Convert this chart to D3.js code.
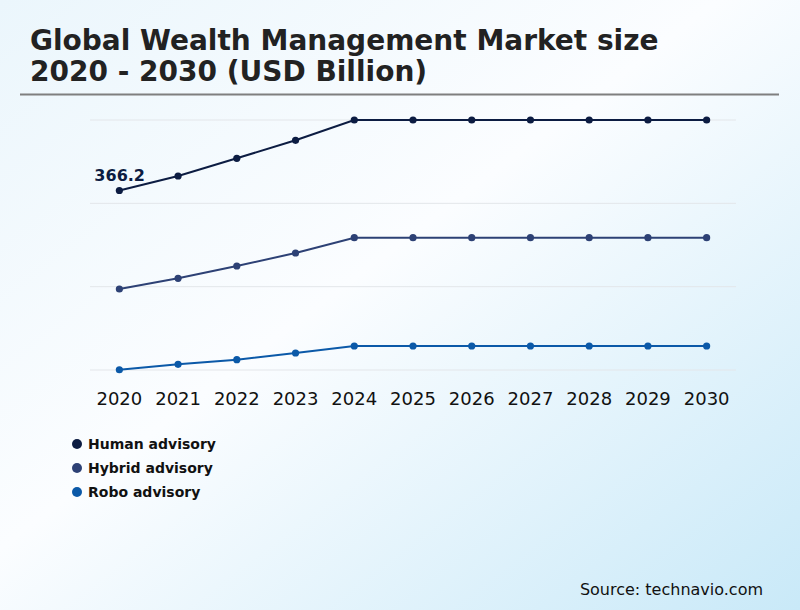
<!DOCTYPE html>
<html>
<head>
<meta charset="utf-8">
<script src="https://cdn.jsdelivr.net/npm/d3@7"></script>
<style>
  html, body { margin: 0; padding: 0; }
  body { width: 800px; height: 610px; overflow: hidden; font-family: "DejaVu Sans", sans-serif; }
</style>
</head>
<body>
<div id="chart"></div>
<script>
const years = ["2020", "2021", "2022", "2023", "2024", "2025", "2026", "2027", "2028", "2029", "2030"];
const human = [366.2, 395.8, 431.9, 468.6, 510, 510, 510, 510, 510, 510, 510];
const hybrid = [165.2, 187.1, 212.2, 238.7, 269.9, 269.9, 269.9, 269.9, 269.9, 269.9, 269.9];
const robo = [0.5, 11.6, 21.0, 34.7, 49.0, 49.0, 49.0, 49.0, 49.0, 49.0, 49.0];
const gridTicks = [0, 170, 340, 510];
const seriesNames = ["Human advisory", "Hybrid advisory", "Robo advisory"];

const width = 800, height = 610;
const colors = ["#0c1c42", "#2d4175", "#0b59a8"];

const svg = d3.select("#chart").append("svg")
    .attr("width", width).attr("height", height);

// background
const grad = svg.append("defs").append("linearGradient")
    .attr("id", "bg").attr("x1", "0").attr("y1", "0").attr("x2", "1").attr("y2", "1");
grad.append("stop").attr("offset", "0%").attr("stop-color", "#ebf6fc");
grad.append("stop").attr("offset", "45%").attr("stop-color", "#fbfdff");
grad.append("stop").attr("offset", "100%").attr("stop-color", "#c9e9f8");
svg.append("rect").attr("width", width).attr("height", height).attr("fill", "url(#bg)");

// title
const title = svg.append("text")
    .attr("x", 30).attr("y", 50)
    .attr("font-size", 28).attr("font-weight", "bold").attr("fill", "#222");
title.append("tspan").attr("x", 30).attr("y", 50).text("Global Wealth Management Market size");
title.append("tspan").attr("x", 30).attr("y", 81).text("2020 - 2030 (USD Billion)");

svg.append("line")
    .attr("x1", 20).attr("x2", 779).attr("y1", 94.5).attr("y2", 94.5)
    .attr("stroke", "#7f7f7f").attr("stroke-width", 2);

// scales
const x = d3.scaleBand().domain(years).range([90, 736]);
const y = d3.scaleLinear().domain([0, 510]).range([370, 120]);
const cx = d => x(d) + x.bandwidth() / 2;

// grid
svg.append("g").selectAll("line").data(gridTicks).join("line")
    .attr("x1", 90).attr("x2", 736)
    .attr("y1", d => y(d)).attr("y2", d => y(d))
    .attr("stroke", "#e3e6ea").attr("stroke-width", 1);

// x axis labels
const xAxis = svg.append("g")
    .attr("transform", "translate(0,370)")
    .call(d3.axisBottom(x).tickSize(0).tickPadding(22));
xAxis.select(".domain").remove();
xAxis.selectAll("text")
    .attr("font-size", 18).attr("font-family", "DejaVu Sans").attr("fill", "#111");

// lines
const line = d3.line().x((d, i) => cx(years[i])).y(d => y(d));
[human, hybrid, robo].forEach((s, k) => {
    const g = svg.append("g");
    g.append("path").datum(s)
        .attr("d", line)
        .attr("fill", "none").attr("stroke", colors[k]).attr("stroke-width", 2);
    g.selectAll("circle").data(s).join("circle")
        .attr("cx", (d, i) => cx(years[i]))
        .attr("cy", d => y(d))
        .attr("r", 3.6)
        .attr("fill", colors[k]);
});

// data label
svg.append("text")
    .attr("x", cx(years[0]) - 25).attr("y", y(human[0]) - 9)
    .attr("font-size", 16).attr("font-weight", "bold").attr("fill", colors[0])
    .text(human[0].toFixed(1));

// legend
const legend = svg.append("g").selectAll("g").data(seriesNames).join("g")
    .attr("transform", (d, i) => `translate(77,${444 + i * 24})`);
legend.append("circle").attr("r", 5).attr("fill", (d, i) => colors[i]);
legend.append("text")
    .attr("x", 11).attr("y", 5)
    .attr("font-size", 14).attr("font-weight", "bold").attr("fill", "#111")
    .text(d => d);

// source
svg.append("text")
    .attr("x", 763).attr("y", 595)
    .attr("text-anchor", "end")
    .attr("font-size", 16).attr("fill", "#111")
    .text("Source: technavio.com");
</script>
</body>
</html>
